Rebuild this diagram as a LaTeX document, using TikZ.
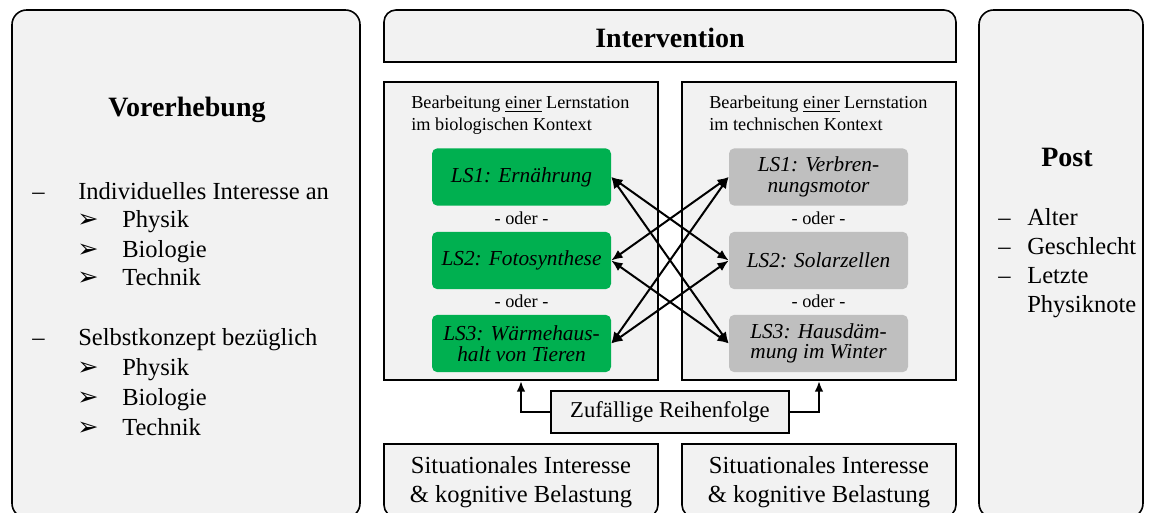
\documentclass[tikz,border=0pt]{standalone}
\usepackage{fontspec}
\setmainfont{Liberation Serif}
\newfontfamily\dejavu{DejaVu Sans}
\usetikzlibrary{arrows.meta}
\definecolor{boxfill}{HTML}{F2F2F2}
\definecolor{lsgreen}{HTML}{00B050}
\definecolor{lsgray}{HTML}{BFBFBF}
\begin{document}
\begin{tikzpicture}[x=0.75pt,y=-0.75pt,
  outer/.style={draw=black, fill=boxfill, line width=1.2pt},
  container/.style={draw=black, fill=boxfill, line width=1.6pt, inner sep=0pt},
  lsbox/.style={rounded corners=4pt, minimum width=134.25pt, minimum height=43pt, inner sep=0pt, align=center,
    font=\fontsize{16pt}{15.5pt}\selectfont\itshape},
  lsbio/.style={lsbox, fill=lsgreen},
  lstech/.style={lsbox, fill=lsgray},
  titletext/.style={font=\fontsize{21pt}{25pt}\selectfont\bfseries, inner sep=0pt},
  bodytext/.style={font=\fontsize{18.4pt}{21.75pt}\selectfont, inner sep=0pt},
  smalltext/.style={font=\fontsize{13.7pt}{16.5pt}\selectfont, inner sep=0pt},
  arrsym/.style={font=\fontsize{19pt}{20pt}\selectfont\dejavu, inner sep=0pt},
  biarrow/.style={line width=1.5pt, {Latex[length=8.5pt,width=7pt]}-{Latex[length=8.5pt,width=7pt]}},
  uparrow/.style={line width=1.4pt, -{Latex[length=8pt,width=6.5pt]}}
]
\useasboundingbox (0,0) rectangle (1150,513);

% ---------- Vorerhebung ----------
\draw[outer, rounded corners=11pt] (12,10) rectangle (360,518);
\node[titletext, anchor=base] (vortitle) at (187,117) {Vorerhebung};
\node[bodytext, anchor=base west] (d1) at (32,200) {–};
\node[bodytext, anchor=base west] (i1) at (78,200) {Individuelles Interesse an};
\node[arrsym, anchor=base west] (a1) at (77,228) {➢};
\node[bodytext, anchor=base west] (p1) at (122,228) {Physik};
\node[arrsym, anchor=base west] (a2) at (77,258) {➢};
\node[bodytext, anchor=base west] (b1) at (122,258) {Biologie};
\node[arrsym, anchor=base west] (a3) at (77,286) {➢};
\node[bodytext, anchor=base west] (t1) at (122,286) {Technik};
\node[bodytext, anchor=base west] (d2) at (32,346) {–};
\node[bodytext, anchor=base west] (i2) at (78,346) {Selbstkonzept bezüglich};
\node[arrsym, anchor=base west] (a4) at (77,376) {➢};
\node[bodytext, anchor=base west] (p2) at (122,376) {Physik};
\node[arrsym, anchor=base west] (a5) at (77,405) {➢};
\node[bodytext, anchor=base west] (b2) at (122,405) {Biologie};
\node[arrsym, anchor=base west] (a6) at (77,435) {➢};
\node[bodytext, anchor=base west] (t2) at (122,435) {Technik};

% ---------- Post ----------
\draw[outer, rounded corners=11pt] (979,10) rectangle (1143,518);
\node[titletext, anchor=base] (posttitle) at (1067,167) {Post};
\node[bodytext, anchor=base west] (pd1) at (998,226) {–};
\node[bodytext, anchor=base west] (pa) at (1027,226) {Alter};
\node[bodytext, anchor=base west] (pd2) at (998,255) {–};
\node[bodytext, anchor=base west] (pg) at (1027,255) {Geschlecht};
\node[bodytext, anchor=base west] (pd3) at (998,284) {–};
\node[bodytext, anchor=base west] (pl) at (1027,284) {Letzte};
\node[bodytext, anchor=base west] (pn) at (1027,313) {Physiknote};

% ---------- Intervention ----------
\draw[outer] (384,62) [rounded corners=9pt] -- (384,10) -- (956,10) [sharp corners] -- (956,62) -- cycle;
\node[titletext, anchor=base] (inttitle) at (670,48) {Intervention};

% containers
\node[container, minimum width=205.5pt, minimum height=223.5pt] (bio) at (521,231) {};
\node[container, minimum width=205.5pt, minimum height=223.5pt] (tech) at (819,231) {};

\node[smalltext, anchor=base west] (bioh1) at (411,109) {Bearbeitung \underline{einer} Lernstation};
\node[smalltext, anchor=base west] (bioh2) at (411,131) {im biologischen Kontext};
\node[smalltext, anchor=base west] (techh1) at (709,109) {Bearbeitung \underline{einer} Lernstation};
\node[smalltext, anchor=base west] (techh2) at (709,131) {im technischen Kontext};

\node[lsbio] (b1s) at (521.5,177) {LS1: Ernährung};
\node[lsbio] (b2s) at (521.5,260.5) {LS2: Fotosynthese};
\node[lsbio] (b3s) at (521.5,343.5) {LS3: Wärmehaus-\\halt von Tieren};
\node[lstech] (t1s) at (818.5,177) {LS1: Verbren-\\nungsmotor};
\node[lstech] (t2s) at (818.5,260.5) {LS2: Solarzellen};
\node[lstech] (t3s) at (818.5,343.5) {LS3: Hausdäm-\\mung im Winter};

\node[smalltext, anchor=base] (bo1) at (521.5,225) {- oder -};
\node[smalltext, anchor=base] (bo2) at (521.5,308) {- oder -};
\node[smalltext, anchor=base] (to1) at (818.5,225) {- oder -};
\node[smalltext, anchor=base] (to2) at (818.5,308) {- oder -};

\draw[biarrow] (b1s.east) -- (t2s.west);
\draw[biarrow] (b1s.east) -- (t3s.west);
\draw[biarrow] (b2s.east) -- (t1s.west);
\draw[biarrow] (b2s.east) -- (t3s.west);
\draw[biarrow] (b3s.east) -- (t1s.west);
\draw[biarrow] (b3s.east) -- (t2s.west);

% random order
\node[draw=black, fill=boxfill, line width=1.1pt, minimum width=178.5pt, minimum height=31.5pt, inner sep=0pt,
  font=\fontsize{17pt}{20pt}\selectfont] (zuf) at (670,412) {Zufällige Reihenfolge};
\draw[uparrow] (zuf.west) -| (bio.south);
\draw[uparrow] (zuf.east) -| (tech.south);

% bottom boxes
\draw[outer] (384,444) [rounded corners=9pt] -- (384,517) -- (658,517) [sharp corners] -- (658,444) -- cycle;
\draw[outer] (682,444) [rounded corners=9pt] -- (682,517) -- (956,517) [sharp corners] -- (956,444) -- cycle;
\node[bodytext, align=center, anchor=base] (sit1) at (521,502) {Situationales Interesse\\\& kognitive Belastung};
\node[bodytext, align=center, anchor=base] (sit2) at (819,502) {Situationales Interesse\\\& kognitive Belastung};
\end{tikzpicture}
\end{document}
